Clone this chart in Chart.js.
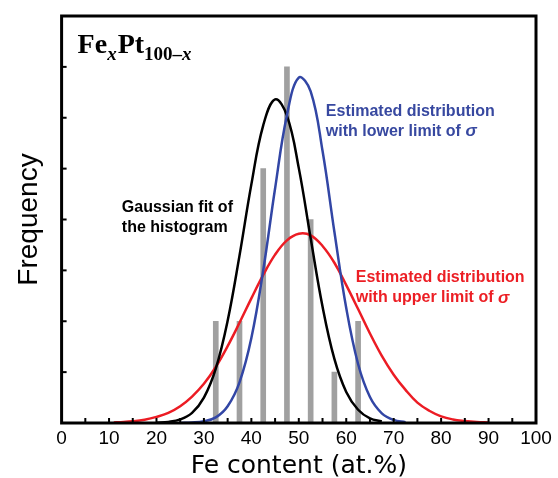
<!DOCTYPE html>
<html>
<head>
<meta charset="utf-8">
<script src="https://cdn.jsdelivr.net/npm/chart.js@4.4.1/dist/chart.umd.min.js"></script>
<style>
  html, body { margin: 0; padding: 0; background: #fff; }
  #wrap { width: 558px; height: 478px; }
</style>
</head>
<body>
<div id="wrap"><canvas id="myChart" width="558" height="478"></canvas></div>
<script>
// histogram (bin centre, count)
var binCentres = [32.5, 37.5, 42.5, 47.5, 52.5, 57.5, 62.5];
var binCounts  = [2, 2, 5, 7, 4, 1, 2];

// curves
var gaussX = [20, 22.5, 25, 27.5, 30, 32.5, 35, 37.5, 40, 42.5, 45, 47.5, 50, 52.5, 55, 57.5, 60, 62.5, 65, 67.5];
var gaussY = [0.006, 0.022, 0.07, 0.2, 0.5, 1.07, 2.01, 3.29, 4.69, 5.85, 6.36, 6.04, 5.01, 3.63, 2.29, 1.26, 0.61, 0.26, 0.09, 0.03];

var lowerX = [25, 27.5, 30, 32.5, 35, 37.5, 40, 42.5, 45, 47.5, 50, 52.5, 55, 57.5, 60, 62.5, 65, 67.5, 70, 72.5];
var lowerY = [0.002, 0.009, 0.034, 0.11, 0.33, 0.8, 1.67, 3.0, 4.61, 6.05, 6.79, 6.52, 5.35, 3.76, 2.26, 1.16, 0.51, 0.19, 0.06, 0.017];

var upperX = [11, 12.5, 15, 17.5, 20, 22.5, 25, 27.5, 30, 32.5, 35, 37.5, 40, 42.5, 45, 47.5, 50, 52.5, 55, 57.5, 60, 62.5, 65, 67.5, 70, 72.5, 75, 77.5, 80, 82.5, 85, 87.5, 90];
var upperY = [0.011, 0.017, 0.034, 0.065, 0.12, 0.2, 0.33, 0.52, 0.77, 1.1, 1.51, 1.97, 2.45, 2.91, 3.31, 3.59, 3.72, 3.69, 3.48, 3.15, 2.71, 2.24, 1.76, 1.32, 0.95, 0.65, 0.4, 0.24, 0.13, 0.07, 0.04, 0.02, 0.01];

var xTicks = [0, 10, 20, 30, 40, 50, 60, 70, 80, 90, 100];

function pairs(xs, ys) {
    return xs.map(function(x, i) { return { x: x, y: ys[i] }; });
}

var sans = "'Liberation Sans', Arial, sans-serif";
var serif = "'Liberation Serif', 'Times New Roman', serif";

// frame, inward ticks and the text labels inside the plot
var decorations = {
    id: 'decorations',
    afterDraw: function(chart) {
        var ctx = chart.ctx, a = chart.chartArea;
        var xs = chart.scales.x, ys = chart.scales.y;
        ctx.save();
        ctx.strokeStyle = '#000';
        ctx.lineWidth = 2;
        for (var v = 5; v < 100; v += 5) {
            var px = xs.getPixelForValue(v);
            ctx.beginPath(); ctx.moveTo(px, a.bottom); ctx.lineTo(px, a.bottom - 5); ctx.stroke();
        }
        for (var k = 1; k < 8; k++) {
            var py = ys.getPixelForValue(k);
            ctx.beginPath(); ctx.moveTo(a.left, py); ctx.lineTo(a.left + 5, py); ctx.stroke();
        }
        ctx.lineWidth = 3;
        ctx.strokeRect(a.left, a.top, a.right - a.left, a.bottom - a.top);

        // Fe_x Pt_100-x
        ctx.fillStyle = '#000';
        ctx.textBaseline = 'alphabetic';
        ctx.textAlign = 'left';
        var x0 = a.left + 16, base = a.top + 37;
        ctx.font = 'bold 28px ' + serif;
        ctx.fillText('Fe', x0, base); x0 += ctx.measureText('Fe').width;
        ctx.font = 'italic bold 19px ' + serif;
        ctx.fillText('x', x0, base + 7); x0 += ctx.measureText('x').width + 1;
        ctx.font = 'bold 28px ' + serif;
        ctx.fillText('Pt', x0, base); x0 += ctx.measureText('Pt').width;
        ctx.font = 'bold 19px ' + serif;
        ctx.fillText('100\u2013', x0, base + 7); x0 += ctx.measureText('100\u2013').width;
        ctx.font = 'italic bold 19px ' + serif;
        ctx.fillText('x', x0, base + 7);

        function note(lines, xv, yv, color) {
            var lx = xs.getPixelForValue(xv), ly = ys.getPixelForValue(yv);
            ctx.fillStyle = color;
            ctx.textBaseline = 'middle';
            lines.forEach(function(parts, i) {
                var cx = lx;
                parts.forEach(function(p) {
                    ctx.font = (p.italic ? 'italic bold 17px ' : 'bold 16px ') + sans;
                    ctx.fillText(p.t, cx, ly + i * 20);
                    cx += ctx.measureText(p.t).width;
                });
            });
        }
        note([[{t: 'Gaussian fit of'}], [{t: 'the histogram'}]], 12.7, 4.23, '#000');
        note([[{t: 'Estimated distribution'}], [{t: 'with lower limit of '}, {t: '\u03c3', italic: true}]], 55.7, 6.13, 'rgb(55,72,160)');
        note([[{t: 'Estimated distribution'}], [{t: 'with upper limit of '}, {t: '\u03c3', italic: true}]], 62.0, 2.85, 'rgb(236,30,36)');
        ctx.restore();
    }
};

var myChart = new Chart(document.getElementById('myChart'), {
    type: 'bar',
    data: {
        datasets: [
            {
                type: 'bar',
                label: 'Histogram',
                data: pairs(binCentres, binCounts),
                backgroundColor: 'rgb(160,160,160)',
                barThickness: 5,
                order: 10
            },
            {
                type: 'line',
                label: 'Gaussian fit of the histogram',
                data: pairs(gaussX, gaussY),
                borderColor: '#000',
                borderWidth: 2.5,
                pointRadius: 0,
                tension: 0.4,
                fill: false,
                order: 2
            },
            {
                type: 'line',
                label: 'Estimated distribution with lower limit of sigma',
                data: pairs(lowerX, lowerY),
                borderColor: 'rgb(50,70,165)',
                borderWidth: 2.5,
                pointRadius: 0,
                tension: 0.4,
                fill: false,
                order: 1
            },
            {
                type: 'line',
                label: 'Estimated distribution with upper limit of sigma',
                data: pairs(upperX, upperY),
                borderColor: 'rgb(236,28,36)',
                borderWidth: 2.5,
                pointRadius: 0,
                tension: 0.4,
                fill: false,
                order: 3
            }
        ]
    },
    options: {
        responsive: false,
        animation: false,
        layout: { padding: { left: 8, right: 22, top: 16, bottom: 0 } },
        plugins: { legend: { display: false }, tooltip: { enabled: false } },
        scales: {
            x: {
                type: 'linear',
                offset: false,
                min: 0,
                max: 100,
                afterBuildTicks: function(scale) {
                    scale.ticks = xTicks.map(function(v) { return { value: v }; });
                },
                ticks: {
                    color: '#000',
                    padding: 6,
                    maxRotation: 0,
                    font: { family: sans, size: 19, lineHeight: 1.0 }
                },
                grid: { display: false, drawTicks: false, offset: false },
                border: { display: false },
                title: {
                    display: true,
                    text: 'Fe content (at.%)',
                    color: '#000',
                    padding: { top: 0, bottom: 0 },
                    font: { family: "'DejaVu Sans', sans-serif", size: 25, lineHeight: 0.96 }
                }
            },
            y: {
                min: 0,
                max: 8,
                ticks: { display: false, stepSize: 1 },
                grid: { display: false, drawTicks: false },
                border: { display: false },
                title: {
                    display: true,
                    text: 'Frequency',
                    color: '#000',
                    padding: { top: 4, bottom: 16 },
                    font: { family: sans, size: 28, lineHeight: 1.2 }
                }
            }
        }
    },
    plugins: [decorations]
});
</script>
</body>
</html>
